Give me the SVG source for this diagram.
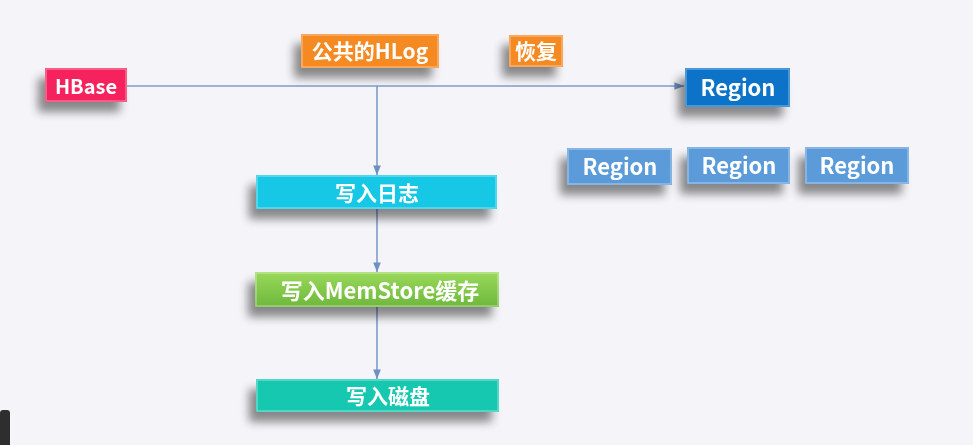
<svg xmlns="http://www.w3.org/2000/svg" width="973" height="445" viewBox="0 0 973 445">
<defs>
<filter id="sh" x="-30%" y="-40%" width="160%" height="200%">
<feGaussianBlur in="SourceAlpha" stdDeviation="5"/>
<feOffset dx="-7" dy="10" result="b"/>
<feComponentTransfer><feFuncA type="linear" slope="0.45"/></feComponentTransfer>
<feMerge><feMergeNode/><feMergeNode in="SourceGraphic"/></feMerge>
</filter>
<linearGradient id="gGreen" x1="0" y1="0" x2="0" y2="1">
<stop offset="0" stop-color="#9AD95A"/>
<stop offset="1" stop-color="#6DB83C"/>
</linearGradient>
<marker id="ar" viewBox="0 0 10 10" refX="10" refY="5" markerWidth="6" markerHeight="6" orient="auto">
<path d="M0,1 L10,5 L0,9 z" fill="#6F8FC4"/>
</marker>
</defs>
<style>
.t{font-family:"Noto Sans CJK SC","Microsoft YaHei","Liberation Sans",sans-serif;font-weight:bold;fill:#FFFFFF;text-anchor:middle;dominant-baseline:central}
.e{stroke:#7F9CCB;stroke-width:1.6;fill:none}
.bev{fill:none;stroke:#FFFFFF;stroke-opacity:0.35;stroke-width:1.5}
</style>
<rect width="973" height="445" fill="#F5F4F8"/>
<g id="connectors">
<line class="e" x1="127" y1="86" x2="684" y2="86" marker-end="url(#ar)"/>
<line class="e" x1="377" y1="86" x2="377" y2="175" marker-end="url(#ar)"/>
<line class="e" x1="377" y1="209" x2="377" y2="272" marker-end="url(#ar)"/>
<line class="e" x1="377" y1="307" x2="377" y2="379" marker-end="url(#ar)"/>
</g>
<g id="hbase" filter="url(#sh)">
<rect x="45" y="68" width="82" height="34" fill="#F5245D"/>
<rect class="bev" x="46" y="69" width="80" height="32"/>
<text class="t" x="86" y="85" font-size="20">HBase</text>
</g>
<g id="hlog" filter="url(#sh)">
<rect x="301" y="34" width="138" height="34" fill="#F58A22"/>
<rect class="bev" x="302" y="35" width="136" height="32"/>
<text class="t" x="370" y="50" font-size="21">公共的HLog</text>
</g>
<g id="recover" filter="url(#sh)">
<rect x="509" y="35" width="54" height="32" fill="#F58A22"/>
<rect class="bev" x="510" y="36" width="52" height="30"/>
<text class="t" x="536" y="50" font-size="21">恢复</text>
</g>
<g id="region-main" filter="url(#sh)">
<rect x="685" y="68" width="105" height="39" fill="#0A73C9"/>
<rect class="bev" x="686" y="69" width="103" height="37"/>
<text class="t" x="738" y="86" font-size="22">Region</text>
</g>
<g id="region-1" filter="url(#sh)">
<rect x="567" y="148" width="105" height="37" fill="#5B9BDA"/>
<rect class="bev" x="568" y="149" width="103" height="35"/>
<text class="t" x="620" y="165" font-size="22">Region</text>
</g>
<g id="region-2" filter="url(#sh)">
<rect x="687" y="147" width="103" height="37" fill="#5B9BDA"/>
<rect class="bev" x="688" y="148" width="101" height="35"/>
<text class="t" x="739" y="164" font-size="22">Region</text>
</g>
<g id="region-3" filter="url(#sh)">
<rect x="805" y="147" width="104" height="37" fill="#5B9BDA"/>
<rect class="bev" x="806" y="148" width="102" height="35"/>
<text class="t" x="857" y="164" font-size="22">Region</text>
</g>
<g id="write-log" filter="url(#sh)">
<rect x="256" y="175" width="241" height="34" fill="#14C8E6"/>
<rect class="bev" x="257" y="176" width="239" height="32"/>
<text class="t" x="377" y="192" font-size="21">写入日志</text>
</g>
<g id="write-memstore" filter="url(#sh)">
<rect x="255" y="272" width="244" height="35" fill="url(#gGreen)"/>
<rect class="bev" x="256" y="273" width="242" height="33"/>
<text class="t" x="380" y="289" font-size="22">写入MemStore缓存</text>
</g>
<g id="write-disk" filter="url(#sh)">
<rect x="256" y="379" width="243" height="33" fill="#17C8AF"/>
<rect class="bev" x="257" y="380" width="241" height="31"/>
<text class="t" x="388" y="395" font-size="21">写入磁盘</text>
</g>
<rect x="0" y="410" width="10" height="40" rx="3" fill="#2E2E2E"/>
</svg>
